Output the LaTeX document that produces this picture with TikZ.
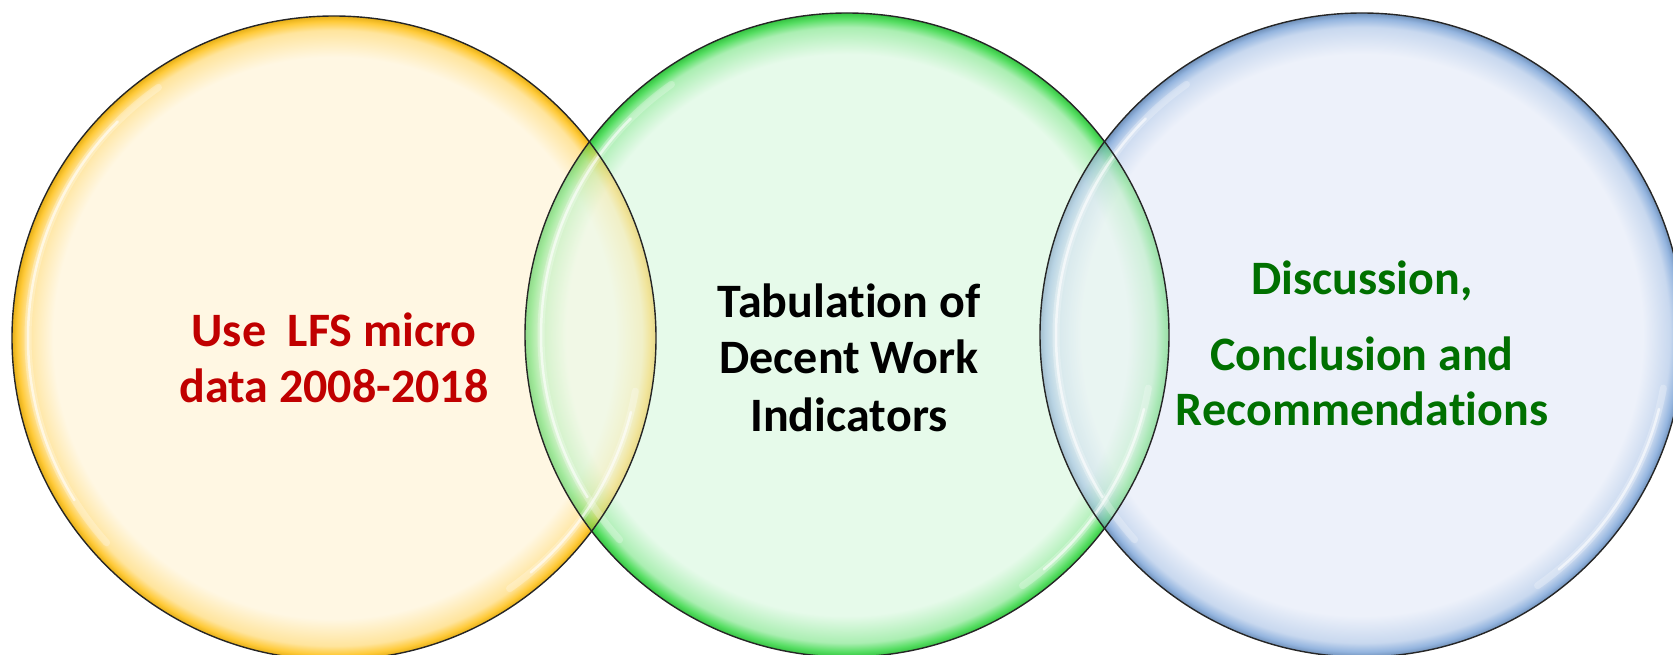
\documentclass[tikz,border=0pt]{standalone}
\usepackage{fontspec}
\setmainfont[Ligatures={NoCommon,NoContextual}]{Carlito}
\definecolor{yIn}{HTML}{FFF7E3}
\definecolor{yRim}{HTML}{FFC21A}
\definecolor{gIn}{HTML}{E6FAEA}
\definecolor{gRim}{HTML}{3CD94A}
\definecolor{bIn}{HTML}{EDF1FA}
\definecolor{bRim}{HTML}{84AADA}
\definecolor{txtRed}{HTML}{C00000}
\definecolor{txtGreen}{HTML}{007000}
\pgfdeclareradialshading{shY}{\pgfpoint{0bp}{0bp}}{color(0bp)=(yIn); color(21.8bp)=(yIn); color(23.9bp)=(yRim!35!yIn); color(24.6bp)=(yRim!85!yIn); color(25bp)=(yRim!90!black); color(50bp)=(yRim!90!black)}
\pgfdeclareradialshading{shG}{\pgfpoint{0bp}{0bp}}{color(0bp)=(gIn); color(21.8bp)=(gIn); color(23.9bp)=(gRim!35!gIn); color(24.6bp)=(gRim!85!gIn); color(25bp)=(gRim!90!black); color(50bp)=(gRim!90!black)}
\pgfdeclareradialshading{shB}{\pgfpoint{0bp}{0bp}}{color(0bp)=(bIn); color(21.8bp)=(bIn); color(23.9bp)=(bRim!35!bIn); color(24.6bp)=(bRim!85!bIn); color(25bp)=(bRim!85!black); color(50bp)=(bRim!85!black)}
\tikzset{
  bubble/.style={circle, minimum size=644pt, inner sep=0pt, outer sep=0pt},
  rimline/.style={draw=black!85, line width=1.4pt},
  hlwide/.style={white, line width=7pt, opacity=0.25, line cap=round},
  hlthin/.style={white, line width=2.5pt, opacity=0.6, line cap=round},
  lbl/.style={font=\fontsize{48}{56}\selectfont\bfseries, inner sep=0pt, anchor=base},
}
\begin{document}
\begin{tikzpicture}[x=1pt,y=1pt]
\useasboundingbox (0,0) rectangle (1673,-655);
% bubbles
\node[bubble, shading=shY] (Y) at (334,-338) {};
\node[bubble, shading=shG] (G) at (847,-335) {};
\node[bubble, shading=shB] (B) at (1362,-335) {};
% overlaps
\begin{scope}
  \clip (G.center) circle (322pt);
  \shade[shading=shY, opacity=0.45] (Y.center) circle (322pt);
\end{scope}
\begin{scope}
  \clip (B.center) circle (322pt);
  \shade[shading=shG, opacity=0.45] (G.center) circle (322pt);
\end{scope}
% highlights
\foreach \c in {Y,G,B}{
  \draw[hlwide] ([shift={(125:306pt)}]\c.center) arc[start angle=125, end angle=222, radius=306pt];
  \draw[hlthin] ([shift={(135:306pt)}]\c.center) arc[start angle=135, end angle=212, radius=306pt];
  \draw[hlwide] ([shift={(-10:306pt)}]\c.center) arc[start angle=-10, end angle=-55, radius=306pt];
  \draw[hlthin] ([shift={(-14:306pt)}]\c.center) arc[start angle=-14, end angle=-50, radius=306pt];
}
% outlines
\draw[rimline] (Y.center) circle (322pt);
\draw[rimline] (G.center) circle (322pt);
\draw[rimline] (B.center) circle (322pt);
% texts
\node[lbl, text=txtRed] (y1) at (334,-346) {Use\ \ LFS micro};
\node[lbl, text=txtRed] (y2) at (334,-402) {data 2008-2018};
\node[lbl, text=black] (g1) at (849,-317) {Tabulat\kern0pt ion of};
\node[lbl, text=black] (g2) at (849,-373) {Decent Work};
\node[lbl, text=black] (g3) at (849,-431) {Indicat\kern0pt ors};
\node[lbl, text=txtGreen] (b1) at (1362,-294) {Discussion,};
\node[lbl, text=txtGreen] (b2) at (1362,-370) {Conclusion and};
\node[lbl, text=txtGreen] (b3) at (1362,-425) {Recommendat\kern0pt ions};
\end{tikzpicture}
\end{document}
